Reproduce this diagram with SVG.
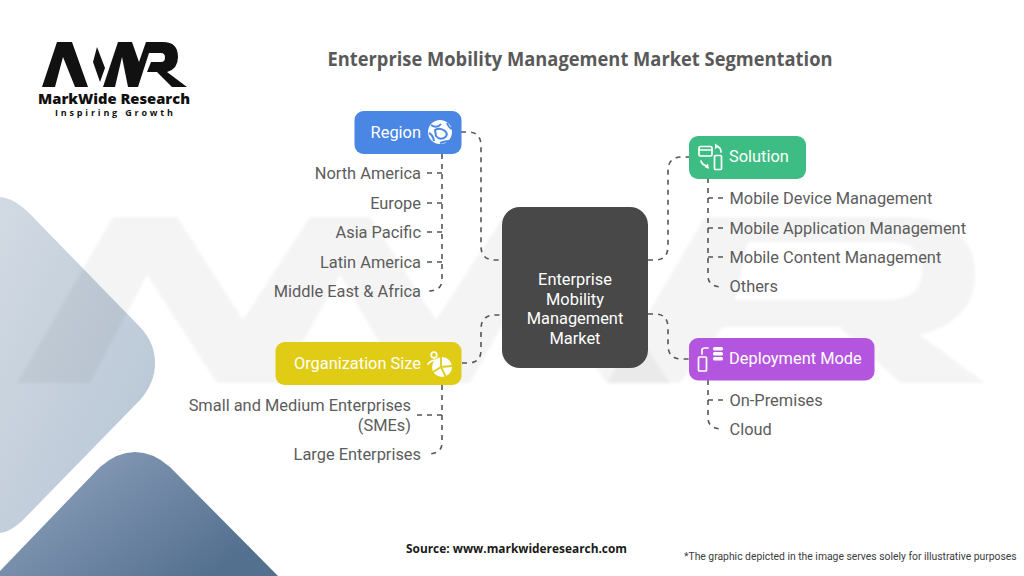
<svg xmlns="http://www.w3.org/2000/svg" width="1024" height="576" viewBox="0 0 1024 576">
<style>
text{font-family:Roboto,"Liberation Sans",sans-serif}
.lbl{font-size:16.4px;fill:#5c5c5c}
.end{text-anchor:end}
.nt{font-size:16.4px;font-weight:400;fill:#fff}
.c{stroke:#555;stroke-width:1.6;stroke-dasharray:5 5;fill:none}
.ic{fill:#fff}
.il{fill:none;stroke-width:1.7;stroke:#fff;stroke-linecap:round;stroke-linejoin:round}
</style>
<defs>
<linearGradient id="g1" x1="0" y1="0" x2="1" y2="1"><stop offset="0" stop-color="#d2dae3"/><stop offset="1" stop-color="#b5c4d4"/></linearGradient>
<linearGradient id="g2" x1="0" y1="0" x2="1" y2="0.6"><stop offset="0" stop-color="#93a6c1"/><stop offset="1" stop-color="#54708f"/></linearGradient>
<filter id="soft" x="-5%" y="-5%" width="110%" height="110%"><feGaussianBlur stdDeviation="1.5"/></filter>
</defs>
<rect width="1024" height="576" fill="#fff"/>
<g id="background">
<path d="M0 197Q14 198 30 214L140 327Q155 343 155 363Q155 383 140 400L22 521Q10 532 0 533Z" fill="url(#g1)"/>
<path d="M0 571L100 467Q117 452 135 452Q153 452 170 467L278 576H0Z" fill="url(#g2)"/>
<g fill="#000" fill-opacity=".042" filter="url(#soft)">
<path d="M17 383L113 217H177L243 320L310 217H370L436 320L503 217H560L670 383H607L532 272L470 383H403L340 275L280 383H217L147 275L90 383Z"/>
<path fill-rule="evenodd" d="M607 383L705 217H900Q975 217 975 275Q975 320 920 335L985 383H900L840 327H723L680 383ZM748 242L735 300H890Q922 298 922 270Q922 242 890 242Z"/>
</g>
</g>
<g id="logo">
<path fill="#111" d="M42 87L57 42H72L88 87H75L63 57L55 87ZM97 47L105 68L100 82L93 62ZM103 87L118 42H132L139 62L146 42H163Q178 42 178 57Q178 69 167 72L187 87H172L157 72H147L151 62H161Q165 62 165 57.500Q165 53 161 53H149L138 87H128L122 57L115 87Z"/>
<text x="114" y="104" text-anchor="middle" font-size="13.500" font-weight="800" fill="#111" style="font-family:'Open Sans',sans-serif" textLength="152" lengthAdjust="spacingAndGlyphs">MarkWide Research</text>
<text x="114" y="116" text-anchor="middle" font-size="9" font-weight="700" fill="#111" style="font-family:'Open Sans',sans-serif" textLength="118">Inspiring Growth</text>
</g>
<text id="title" x="580" y="66" text-anchor="middle" font-size="19.500" font-weight="700" fill="#595959" style="font-family:'Open Sans',sans-serif" textLength="505" lengthAdjust="spacingAndGlyphs">Enterprise Mobility Management Market Segmentation</text>
<g id="connectors">
<path class="c" d="M461 132H468Q481 132 481 146V246Q481 260 495 260H502"/>
<path class="c" d="M648 260H655Q668 260 668 246V171Q668 157 682 157H689"/>
<path class="c" d="M462 363H468Q481 363 481 350V329Q481 315 495 315H502"/>
<path class="c" d="M648 314H655Q668 314 668 328V345Q668 359 682 359H689"/>
<path class="c" d="M442 154V280Q442 291 427 291"/>
<path class="c" d="M427 173H442M427 203H442M427 232H442M427 262H442"/>
<path class="c" d="M708 178V276Q708 287 723 287"/>
<path class="c" d="M708 198H723M708 228H723M708 257H723"/>
<path class="c" d="M442 385V443Q442 454 427 454"/>
<path class="c" d="M417 415H442"/>
<path class="c" d="M708 380V418Q708 429 723 429"/>
<path class="c" d="M708 400H723"/>
</g>
<g id="center">
<rect x="502" y="207" width="146" height="161" rx="18" fill="#484848"/>
<text class="nt" x="575" y="285" text-anchor="middle">Enterprise</text>
<text class="nt" x="575" y="305" text-anchor="middle">Mobility</text>
<text class="nt" x="575" y="324" text-anchor="middle">Management</text>
<text class="nt" x="575" y="344" text-anchor="middle">Market</text>
</g>
<g id="region">
<rect x="354.500" y="111" width="107" height="43" rx="9" fill="#4a86e4"/>
<text class="nt" x="421" y="138" text-anchor="end">Region</text>
<circle class="ic" cx="440" cy="132" r="12"/>
<path d="M431 125Q437 129 441 124M429 133Q433 135 434 141M435 130Q440 127 445 131Q449 135 444 138Q439 140 436 136ZM447 123Q449 128 452 129M440 143Q445 141 449 141" fill="none" stroke="#4a86e4" stroke-width="2"/>
</g>
<g id="n-north-america"><text class="lbl end" x="421" y="179">North America</text></g>
<g id="n-europe"><text class="lbl end" x="421" y="209">Europe</text></g>
<g id="n-asia-pacific"><text class="lbl end" x="421" y="238">Asia Pacific</text></g>
<g id="n-latin-america"><text class="lbl end" x="421" y="268">Latin America</text></g>
<g id="n-mea"><text class="lbl end" x="421" y="297">Middle East &amp; Africa</text></g>
<g id="solution">
<rect x="689" y="136" width="117" height="43" rx="9" fill="#3dbd83"/>
<text class="nt" x="729" y="162">Solution</text>
<rect class="il" x="699" y="146.500" width="13" height="9.500" rx="1.500"/>
<path class="il" d="M699.500 150H712" stroke-width="2.400"/>
<rect class="il" x="714.500" y="155.500" width="7" height="14" rx="1"/>
<path class="il" d="M716 146Q721 147 721 152M701 161Q702 165 707 166"/>
<path class="ic" d="M715 143.500L719 146.500L715 149ZM708 163.500L704.500 167L709 169Z"/>
</g>
<g id="n-mdm"><text class="lbl" x="729.500" y="204">Mobile Device Management</text></g>
<g id="n-mam"><text class="lbl" x="729.500" y="234">Mobile Application Management</text></g>
<g id="n-mcm"><text class="lbl" x="729.500" y="263">Mobile Content Management</text></g>
<g id="n-others"><text class="lbl" x="729.500" y="292">Others</text></g>
<g id="org-size">
<rect x="275.500" y="342" width="186" height="43" rx="9" fill="#e0cc14"/>
<text class="nt" x="421" y="369" text-anchor="end">Organization Size</text>
<circle class="il" cx="434" cy="355" r="2.800"/>
<path class="il" d="M428 364Q433 358.500 440 361"/>
<circle class="ic" cx="442" cy="367" r="10"/>
<path d="M441 356L441 367L452 366M441 367L433 372M441 367L446 377" fill="none" stroke="#e0cc14" stroke-width="1.800"/>
</g>
<g id="n-sme"><text class="lbl end" x="411" y="411">Small and Medium Enterprises</text><text class="lbl end" x="411" y="431">(SMEs)</text></g>
<g id="n-large"><text class="lbl end" x="421" y="460">Large Enterprises</text></g>
<g id="deployment">
<rect x="689" y="338" width="185.500" height="42.500" rx="9" fill="#b455e0"/>
<text class="nt" x="729" y="364">Deployment Mode</text>
<rect class="il" x="698.500" y="357" width="8" height="14" rx="1"/>
<path class="il" d="M702 354V350Q702 348 705 348H708"/>
<g class="ic"><rect x="713" y="347" width="10" height="3.500" rx="1.500"/><rect x="713" y="352" width="10" height="3.500" rx="1.500"/><rect x="713" y="357" width="10" height="3.500" rx="1.500"/></g>
</g>
<g id="n-onprem"><text class="lbl" x="729.500" y="406">On-Premises</text></g>
<g id="n-cloud"><text class="lbl" x="729.500" y="435">Cloud</text></g>
<text id="source" x="406" y="553" font-size="12.500" font-weight="700" fill="#1a1a1a" style="font-family:'Open Sans',sans-serif" textLength="221" lengthAdjust="spacingAndGlyphs">Source: www.markwideresearch.com</text>
<text id="note" x="684" y="560" font-size="10.350" fill="#3c3c3c">*The graphic depicted in the image serves solely for illustrative purposes</text>
</svg>
